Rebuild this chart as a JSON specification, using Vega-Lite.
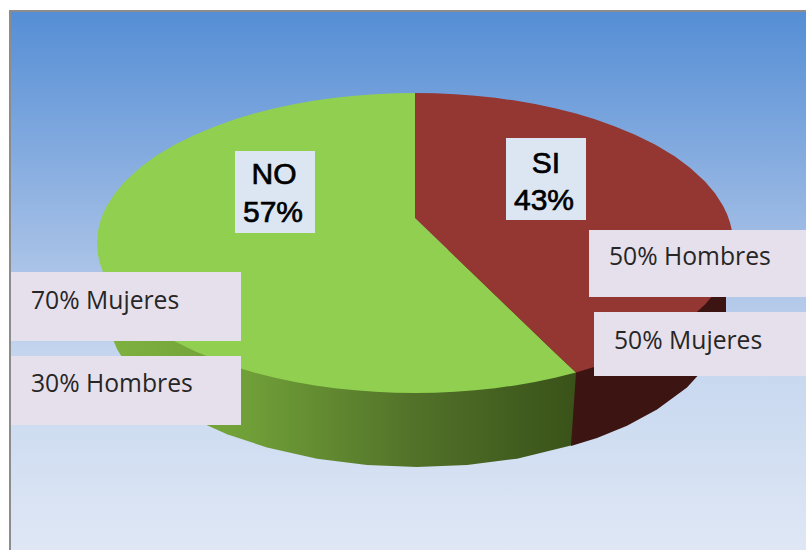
{
"$schema":"https://vega.github.io/schema/vega-lite/v6.json",
"width":806,"height":550,"padding":0,
"autosize":{"type":"fit","contains":"padding"},
"background":"#ffffff",
"config":{"view":{"stroke":null}},
"encoding":{
 "x":{"field":"x","type":"quantitative","scale":{"domain":[0,806],"nice":false,"zero":false},"axis":null},
 "y":{"field":"y","type":"quantitative","scale":{"domain":[550,0],"nice":false,"zero":false},"axis":null}
},
"layer":[
{"data":{"values":[{"x":9,"x2":806,"y":10,"y2":550}]},
 "mark":{"type":"rect","color":"#8c8c8c"},
 "encoding":{"x2":{"field":"x2"},"y2":{"field":"y2"}}},
{"data":{"values":[{"x":11,"x2":806,"y":12,"y2":550}]},
 "mark":{"type":"rect","color":{"gradient":"linear","x1":0,"y1":0,"x2":0,"y2":1,"stops":[{"offset":0,"color":"#558ed5"},{"offset":0.5,"color":"#aec5e8"},{"offset":0.65,"color":"#c6d7ef"},{"offset":1,"color":"#dfe7f5"}]}},
 "encoding":{"x2":{"field":"x2"},"y2":{"field":"y2"}}},
{"data":{"values":[
 {"part":"SI lateral","x":571,"y":250,"y2":446},{"part":"SI lateral","x":597,"y":250,"y2":438},{"part":"SI lateral","x":627,"y":250,"y2":425.7},{"part":"SI lateral","x":657,"y":250,"y2":409.6},{"part":"SI lateral","x":687,"y":250,"y2":387.4},{"part":"SI lateral","x":707,"y":250,"y2":365.5},{"part":"SI lateral","x":717,"y":250,"y2":349.1},{"part":"SI lateral","x":722,"y":250,"y2":336.9},{"part":"SI lateral","x":725,"y":250,"y2":324.5},{"part":"SI lateral","x":726,"y":250,"y2":312}
 ]},
 "mark":{"type":"area","orient":"vertical","color":"#3c1412"},
 "encoding":{"y2":{"field":"y2"}}},
{"data":{"values":[
 {"part":"NO lateral","x":108,"y":250,"y2":312},{"part":"NO lateral","x":109,"y":250,"y2":324.5},{"part":"NO lateral","x":112,"y":250,"y2":336.9},{"part":"NO lateral","x":117,"y":250,"y2":349.1},{"part":"NO lateral","x":127,"y":250,"y2":365.5},{"part":"NO lateral","x":147,"y":250,"y2":387.4},{"part":"NO lateral","x":167,"y":250,"y2":403.1},{"part":"NO lateral","x":197,"y":250,"y2":420.8},{"part":"NO lateral","x":227,"y":250,"y2":434.2},{"part":"NO lateral","x":267,"y":250,"y2":447.5},{"part":"NO lateral","x":317,"y":250,"y2":458.7},{"part":"NO lateral","x":367,"y":250,"y2":465},{"part":"NO lateral","x":417,"y":250,"y2":467},{"part":"NO lateral","x":467,"y":250,"y2":465},{"part":"NO lateral","x":517,"y":250,"y2":458.7},{"part":"NO lateral","x":571,"y":250,"y2":445.5},{"part":"NO lateral","x":576,"y":372.4,"y2":372.4}
 ]},
 "mark":{"type":"area","orient":"vertical","color":{"gradient":"linear","x1":0,"y1":0,"x2":1,"y2":0,"stops":[{"offset":0,"color":"#7fb13f"},{"offset":0.3,"color":"#709f38"},{"offset":0.65,"color":"#527229"},{"offset":1,"color":"#395219"}]}},
 "encoding":{"y2":{"field":"y2"}}},
{"data":{"values":[
 {"part":"NO","x":97,"y":243,"y2":243},{"part":"NO","x":98,"y":231.1,"y2":254.9},{"part":"NO","x":100,"y":222.5,"y2":263.5},{"part":"NO","x":103,"y":214,"y2":272},{"part":"NO","x":107,"y":205.7,"y2":280.3},{"part":"NO","x":115,"y":193.3,"y2":292.7},{"part":"NO","x":125,"y":181.5,"y2":304.5},{"part":"NO","x":140,"y":167.7,"y2":318.3},{"part":"NO","x":155,"y":156.6,"y2":329.4},{"part":"NO","x":175,"y":144.6,"y2":341.4},{"part":"NO","x":195,"y":134.7,"y2":351.3},{"part":"NO","x":215,"y":126.4,"y2":359.6},{"part":"NO","x":235,"y":119.3,"y2":366.7},{"part":"NO","x":254,"y":113.6,"y2":372.4},{"part":"NO","x":275,"y":108.3,"y2":377.7},{"part":"NO","x":295,"y":104.1,"y2":381.9},{"part":"NO","x":315,"y":100.6,"y2":385.4},{"part":"NO","x":335,"y":97.8,"y2":388.2},{"part":"NO","x":355,"y":95.7,"y2":390.3},{"part":"NO","x":375,"y":94.2,"y2":391.8},{"part":"NO","x":395,"y":93.3,"y2":392.7},{"part":"NO","x":415,"y":93,"y2":393},{"part":"NO","x":415.01,"y":218,"y2":393},{"part":"NO","x":435,"y":237.3,"y2":392.7},{"part":"NO","x":455,"y":256.5,"y2":391.8},{"part":"NO","x":475,"y":275.8,"y2":390.3},{"part":"NO","x":495,"y":295,"y2":388.2},{"part":"NO","x":515,"y":314.3,"y2":385.4},{"part":"NO","x":535,"y":333.5,"y2":381.9},{"part":"NO","x":555,"y":352.8,"y2":377.7},{"part":"NO","x":576,"y":372.4,"y2":372.4}
 ]},
 "mark":{"type":"area","orient":"vertical","color":"#90cf50"},
 "encoding":{"y2":{"field":"y2"}}},
{"data":{"values":[
 {"part":"SI","x":415,"y":93,"y2":218},{"part":"SI","x":435,"y":93.3,"y2":237.3},{"part":"SI","x":455,"y":94.2,"y2":256.5},{"part":"SI","x":475,"y":95.7,"y2":275.8},{"part":"SI","x":495,"y":97.8,"y2":295},{"part":"SI","x":515,"y":100.6,"y2":314.3},{"part":"SI","x":535,"y":104.1,"y2":333.5},{"part":"SI","x":555,"y":108.3,"y2":352.8},{"part":"SI","x":576,"y":113.6,"y2":372.4},{"part":"SI","x":595,"y":119.3,"y2":366.7},{"part":"SI","x":615,"y":126.4,"y2":359.6},{"part":"SI","x":635,"y":134.7,"y2":351.3},{"part":"SI","x":655,"y":144.6,"y2":341.4},{"part":"SI","x":675,"y":156.6,"y2":329.4},{"part":"SI","x":690,"y":167.7,"y2":318.3},{"part":"SI","x":705,"y":181.5,"y2":304.5},{"part":"SI","x":715,"y":193.3,"y2":292.7},{"part":"SI","x":723,"y":205.7,"y2":280.3},{"part":"SI","x":727,"y":214,"y2":272},{"part":"SI","x":730,"y":222.5,"y2":263.5},{"part":"SI","x":732,"y":231.1,"y2":254.9},{"part":"SI","x":733,"y":243,"y2":243}
 ]},
 "mark":{"type":"area","orient":"vertical","color":"#943632"},
 "encoding":{"y2":{"field":"y2"}}},
{"data":{"values":[{"x":235,"x2":315,"y":151,"y2":233},{"x":506,"x2":586,"y":138,"y2":220}]},
 "mark":{"type":"rect","color":"#dce6f2"},
 "encoding":{"x2":{"field":"x2"},"y2":{"field":"y2"}}},
{"data":{"values":[{"x":11,"x2":241,"y":272,"y2":341},{"x":11,"x2":241,"y":356,"y2":425},{"x":589,"x2":806,"y":230,"y2":297},{"x":594,"x2":806,"y":312,"y2":376}]},
 "mark":{"type":"rect","color":"#e6e0ec"},
 "encoding":{"x2":{"field":"x2"},"y2":{"field":"y2"}}},
{"data":{"values":[{"label":"NO","x":274,"y":184},{"label":"57%","x":273,"y":222},{"label":"SI","x":546,"y":173},{"label":"43%","x":544,"y":210}]},
 "mark":{"type":"text","font":"Liberation Sans","fontSize":30,"align":"center","baseline":"alphabetic","color":"#000000","stroke":"#000000","strokeWidth":0.7},
 "encoding":{"text":{"field":"label"}}},
{"data":{"values":[{"label":"70% Mujeres","x":31,"y":309},{"label":"30% Hombres","x":31,"y":392},{"label":"50% Hombres","x":609,"y":265},{"label":"50% Mujeres","x":614,"y":349}]},
 "mark":{"type":"text","font":"Open Sans","fontSize":24.7,"align":"left","baseline":"alphabetic","color":"#262626"},
 "encoding":{"text":{"field":"label"}}}
]
}
